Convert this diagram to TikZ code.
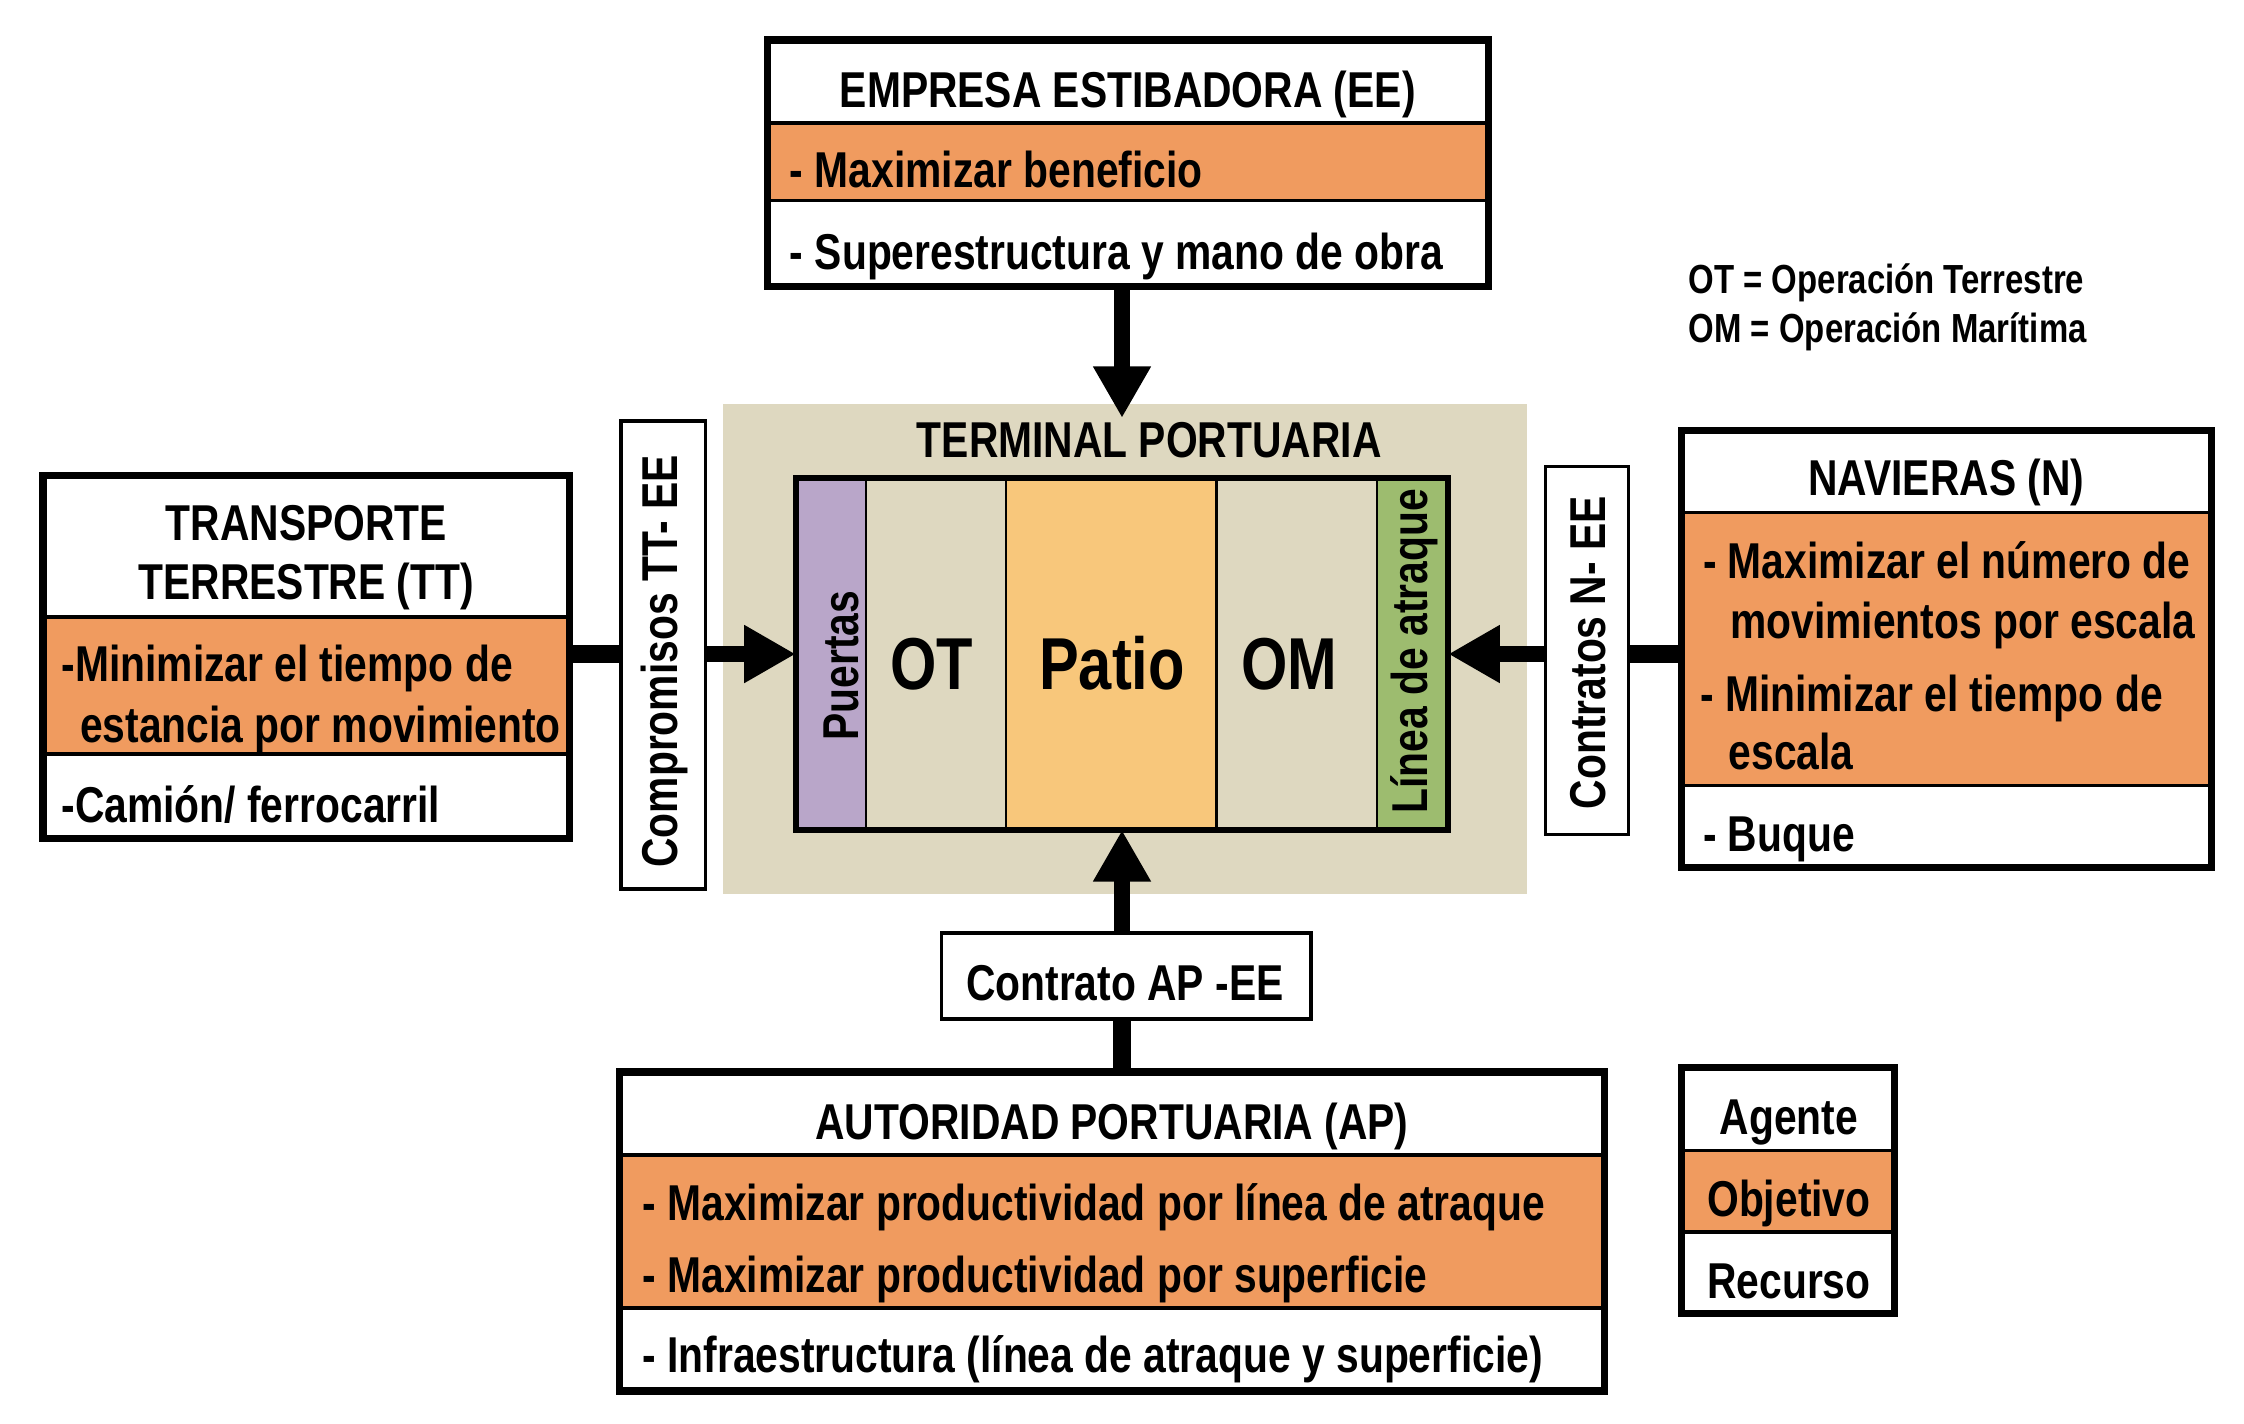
\documentclass[tikz,border=0pt]{standalone}
\usepackage{fontspec}
\setmainfont{Liberation Sans}[FakeStretch=0.81]
\usetikzlibrary{fit,calc,arrows.meta}
\definecolor{obj}{HTML}{F09B5F}
\definecolor{beige}{HTML}{DED8C0}
\definecolor{patio}{HTML}{F8C77B}
\definecolor{puerta}{HTML}{B9A6C9}
\definecolor{atraque}{HTML}{9DBC6F}
\tikzset{
  txt/.style={font=\fontsize{17.6}{21}\selectfont\bfseries, inner sep=0, outer sep=0},
  bigtxt/.style={font=\fontsize{25.7}{29}\selectfont\bfseries, inner sep=0, outer sep=0},
  smalltxt/.style={font=\fontsize{14.2}{17}\selectfont\bfseries, inner sep=0, outer sep=0},
  sec/.style={inner sep=0, outer sep=0},
  frame/.style={inner sep=0, outer sep=0, draw=black, line width=2.5pt},
  divider/.style={line width=1.25pt},
  labelbox/.style={inner sep=0, outer sep=0, draw=black, fill=white, line width=1.25pt},
  bigarrow/.style={line width=5.5pt, -{Triangle[length=18pt,width=19pt]}},
  conn/.style={line width=6pt}
}
\begin{document}
\begin{tikzpicture}[x=0.5pt,y=-0.5pt]
\useasboundingbox[fill=white] (0,0) rectangle (1568,995);

% ---------- Terminal portuaria ----------
\node[sec, fill=beige, fit={(505,282)(1067,625)}] (term) {};
\node[txt, anchor=base] (termT) at (803,320) {TERMINAL PORTUARIA};
\node[sec, fill=puerta, fit={(556,334)(605,580)}] (puertas) {};
\node[sec, fill=beige, fit={(605,334)(703,580)}] (ot) {};
\node[sec, fill=patio, fit={(703,334)(850,580)}] (patio) {};
\node[sec, fill=beige, fit={(850,334)(962,580)}] (om) {};
\node[sec, fill=atraque, fit={(962,334)(1012,580)}] (linea) {};
\draw[line width=0.8pt] (puertas.north east) -- (puertas.south east)
  (ot.north east) -- (ot.south east) (patio.north east) -- (patio.south east)
  (om.north east) -- (om.south east);
\node[inner sep=0, outer sep=0, draw=black, line width=2pt, fit=(puertas)(linea)] (inner) {};
\node[txt, rotate=90] (puertasT) at (588,465) {Puertas};
\node[txt, rotate=90] (lineaT) at (988,455) {Línea de atraque};
\node[bigtxt, anchor=base] (otT) at (651,482) {OT};
\node[bigtxt, anchor=base] (patioT) at (777,482) {Patio};
\node[bigtxt, anchor=base] (omT) at (901,482) {OM};

% ---------- Empresa estibadora ----------
\node[sec, fill=white, fit={(536,28)(1040,86)}] (eeA) {};
\node[sec, fill=obj, fit={(536,86)(1040,140)}] (eeB) {};
\node[sec, fill=white, fit={(536,140)(1040,200)}] (eeC) {};
\draw[divider] (eeB.north west) -- (eeB.north east) (eeB.south west) -- (eeB.south east);
\node[frame, fit=(eeA)(eeC)] (ee) {};
\node[txt, anchor=base] (eeT) at (788,75) {EMPRESA ESTIBADORA (EE)};
\node[txt, anchor=base west] (eeO) at (552,131) {- Maximizar beneficio};
\node[txt, anchor=base west] (eeR) at (552,188) {- Superestructura y mano de obra};

% ---------- Transporte terrestre ----------
\node[sec, fill=white, fit={(30,332)(398,431)}] (ttA) {};
\node[sec, fill=obj, fit={(30,431)(398,527)}] (ttB) {};
\node[sec, fill=white, fit={(30,527)(398,586)}] (ttC) {};
\draw[divider] (ttB.north west) -- (ttB.north east) (ttB.south west) -- (ttB.south east);
\node[frame, fit=(ttA)(ttC)] (tt) {};
\node[txt, anchor=base] (ttT1) at (214,378) {TRANSPORTE};
\node[txt, anchor=base] (ttT2) at (214,419) {TERRESTRE (TT)};
\node[txt, anchor=base west] (ttO1) at (43,476) {-Minimizar el tiempo de};
\node[txt, anchor=base west] (ttO2) at (56,519) {estancia por movimiento};
\node[txt, anchor=base west] (ttR) at (43,575) {-Camión/ ferrocarril};

% ---------- Navieras ----------
\node[sec, fill=white, fit={(1175,301)(1545,358)}] (nA) {};
\node[sec, fill=obj, fit={(1175,358)(1545,549)}] (nB) {};
\node[sec, fill=white, fit={(1175,549)(1545,606)}] (nC) {};
\draw[divider] (nB.north west) -- (nB.north east) (nB.south west) -- (nB.south east);
\node[frame, fit=(nA)(nC)] (nav) {};
\node[txt, anchor=base] (nT) at (1360,346) {NAVIERAS (N)};
\node[txt, anchor=base west] (nO1) at (1190,404) {- Maximizar el número de};
\node[txt, anchor=base west] (nO2) at (1209,446) {movimientos por escala};
\node[txt, anchor=base west] (nO3) at (1188,497) {- Minimizar el tiempo de};
\node[txt, anchor=base west] (nO4) at (1208,538) {escala};
\node[txt, anchor=base west] (nR) at (1190,595) {- Buque};

% ---------- Autoridad portuaria ----------
\node[sec, fill=white, fit={(433,749)(1121,807)}] (apA) {};
\node[sec, fill=obj, fit={(433,807)(1121,914)}] (apB) {};
\node[sec, fill=white, fit={(433,914)(1121,972)}] (apC) {};
\draw[divider] (apB.north west) -- (apB.north east) (apB.south west) -- (apB.south east);
\node[frame, fit=(apA)(apC)] (ap) {};
\node[txt, anchor=base] (apT) at (777,796) {AUTORIDAD PORTUARIA (AP)};
\node[txt, anchor=base west] (apO1) at (449,853) {- Maximizar productividad por línea de atraque};
\node[txt, anchor=base west] (apO2) at (449,903) {- Maximizar productividad por superficie};
\node[txt, anchor=base west] (apR) at (449,959) {- Infraestructura (línea de atraque y superficie)};

% ---------- Leyenda ----------
\node[sec, fill=white, fit={(1175,746)(1324,804)}] (lgA) {};
\node[sec, fill=obj, fit={(1175,804)(1324,861)}] (lgB) {};
\node[sec, fill=white, fit={(1175,861)(1324,918)}] (lgC) {};
\draw[divider] (lgB.north west) -- (lgB.north east) (lgB.south west) -- (lgB.south east);
\node[frame, fit=(lgA)(lgC)] (leg) {};
\node[txt, anchor=base] (lgT1) at (1250,793) {Agente};
\node[txt, anchor=base] (lgT2) at (1250,850) {Objetivo};
\node[txt, anchor=base] (lgT3) at (1250,907) {Recurso};

\node[smalltxt, anchor=base west] (abbr1) at (1180,205) {OT = Operación Terrestre};
\node[smalltxt, anchor=base west] (abbr2) at (1180,239) {OM = Operación Marítima};

% ---------- Label boxes ----------
\node[labelbox, fit={(434,294)(493,621)}] (comp) {};
\node[txt, rotate=90] (compT) at (464,462) {Compromisos TT- EE};
\node[labelbox, fit={(1080,326)(1138,583)}] (contN) {};
\node[txt, rotate=90] (contNT) at (1110,456) {Contratos N- EE};
\node[labelbox, fit={(658,652)(916,712)}] (contAP) {};
\node[txt, anchor=base] (contAPT) at (786,699) {Contrato AP -EE};

% ---------- Connectors ----------
\draw[bigarrow] (inner.north |- ee.south) -- ($(inner.north |- term.north)+(0,10)$);
\draw[conn] (tt.east |- inner.west) -- (comp.west |- inner.west);
\draw[bigarrow] (comp.east |- inner.west) -- (inner.west);
\draw[conn] (nav.west |- inner.east) -- (contN.east |- inner.east);
\draw[bigarrow] (contN.west |- inner.east) -- (inner.east);
\draw[conn] (inner.south |- ap.north) -- (inner.south |- contAP.south);
\draw[bigarrow] (inner.south |- contAP.north) -- (inner.south);
\end{tikzpicture}
\end{document}
